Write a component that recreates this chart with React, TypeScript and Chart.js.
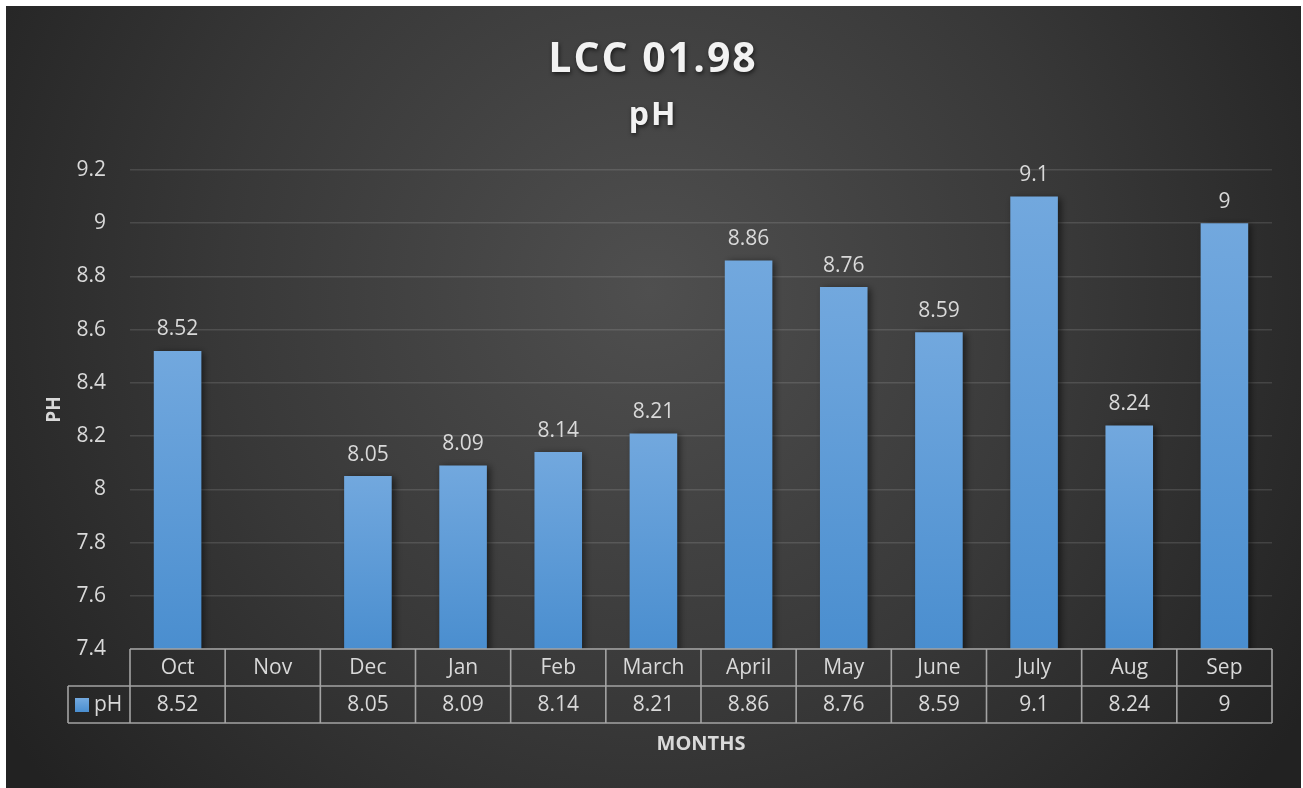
import React, { useEffect, useRef } from "react";
import { Chart, registerables } from "chart.js";

Chart.register(...registerables);

const titleLine1 = "LCC 01.98";
const titleLine2 = "pH";
const months = ["Oct", "Nov", "Dec", "Jan", "Feb", "March", "April", "May", "June", "July", "Aug", "Sep"];
const phValues: (number | null)[] = [8.52, null, 8.05, 8.09, 8.14, 8.21, 8.86, 8.76, 8.59, 9.1, 8.24, 9];
const seriesName = "pH";
const yTitle = "PH";
const xTitle = "MONTHS";
const yMin = 7.4;
const yMax = 9.2;
const yStep = 0.2;

const FONT = "'Open Sans', 'Noto Sans', sans-serif";
const TEXT = "#d9d9d9";

function fmt(v: number | null): string {
  if (v === null || v === undefined) return "";
  return String(Math.round(v * 100) / 100);
}

export default function App() {
  const ref = useRef<HTMLCanvasElement>(null);
  useEffect(() => {
    document.body.style.margin = "0";
    const canvas = ref.current!;
    const bgPlugin = {
      id: "bg",
      beforeDraw(chart: any) {
        const ctx = chart.ctx;
        ctx.save();
        ctx.fillStyle = "#ffffff";
        ctx.fillRect(0, 0, chart.width, chart.height);
        const g = ctx.createRadialGradient(650, 290, 0, 650, 290, 780);
        g.addColorStop(0, "#4f4f4f");
        g.addColorStop(0.55, "#383838");
        g.addColorStop(1, "#222222");
        ctx.fillStyle = g;
        ctx.fillRect(6, 6, 1295, 782);
        ctx.restore();
      },
      beforeDatasetsDraw(chart: any) {
        const ctx = chart.ctx;
        ctx.save();
        ctx.shadowColor = "rgba(0,0,0,0.55)";
        ctx.shadowBlur = 7;
        ctx.shadowOffsetX = 3;
        ctx.shadowOffsetY = 1;
      },
      afterDatasetsDraw(chart: any) {
        chart.ctx.restore();
      },
      afterDraw(chart: any) {
        const ctx = chart.ctx;
        const xs = chart.scales.x;
        const area = chart.chartArea;
        ctx.save();
        // Titles
        ctx.textAlign = "center";
        ctx.textBaseline = "alphabetic";
        ctx.fillStyle = "#f2f2f2";
        ctx.shadowColor = "rgba(0,0,0,0.6)";
        ctx.shadowBlur = 4;
        ctx.shadowOffsetX = 1;
        ctx.shadowOffsetY = 2;
        (ctx as any).letterSpacing = "2px";
        ctx.font = `bold 41px ${FONT}`;
        ctx.fillText(titleLine1, 653, 72);
        ctx.font = `bold 32px ${FONT}`;
        ctx.fillText(titleLine2, 653, 125);
        (ctx as any).letterSpacing = "0px";
        ctx.shadowColor = "transparent";
        ctx.shadowBlur = 0;
        ctx.shadowOffsetX = 0;
        ctx.shadowOffsetY = 0;

        // value labels
        const meta = chart.getDatasetMeta(0);
        ctx.font = `21px ${FONT}`;
        ctx.fillStyle = TEXT;
        ctx.textBaseline = "bottom";
        meta.data.forEach((bar: any, i: number) => {
          const v = phValues[i];
          if (v === null) return;
          ctx.fillText(fmt(v), bar.x, bar.y - 11);
        });

        // data table
        const n = months.length;
        const cw = (area.right - area.left) / n;
        const top = area.bottom;
        const r1 = top + 37;
        const r2 = r1 + 37;
        const legLeft = 68;
        ctx.strokeStyle = "#a3a3a3";
        ctx.lineWidth = 1.6;
        ctx.beginPath();
        ctx.moveTo(area.left, top);
        ctx.lineTo(area.right, top);
        ctx.moveTo(legLeft, r1);
        ctx.lineTo(area.right, r1);
        ctx.moveTo(legLeft, r2);
        ctx.lineTo(area.right, r2);
        ctx.moveTo(legLeft, r1);
        ctx.lineTo(legLeft, r2);
        for (let i = 0; i <= n; i++) {
          const x = xs.getPixelForValue(Math.min(i, n - 1)) + (i === n ? cw / 2 : -cw / 2);
          ctx.moveTo(x, top);
          ctx.lineTo(x, r2);
        }
        ctx.stroke();

        ctx.fillStyle = TEXT;
        ctx.font = `21px ${FONT}`;
        ctx.textAlign = "center";
        ctx.textBaseline = "middle";
        months.forEach((m, i) => {
          const x = xs.getPixelForValue(i);
          ctx.fillText(m, x, (top + r1) / 2 + 1);
          ctx.fillText(fmt(phValues[i]), x, (r1 + r2) / 2 + 1);
        });
        // legend key
        const sq = ctx.createLinearGradient(0, r1 + 12, 0, r1 + 26);
        sq.addColorStop(0, "#74aae0");
        sq.addColorStop(1, "#4a8ed0");
        ctx.fillStyle = sq;
        ctx.fillRect(75, r1 + 12, 14, 14);
        ctx.fillStyle = TEXT;
        ctx.textAlign = "left";
        ctx.fillText(seriesName, 94, (r1 + r2) / 2 + 1);

        // axis titles
        ctx.font = `bold 20px ${FONT}`;
        ctx.textAlign = "center";
        ctx.fillText(xTitle, (area.left + area.right) / 2, 744);
        ctx.font = `bold 19px ${FONT}`;
        ctx.translate(55, (area.top + area.bottom) / 2);
        ctx.rotate(-Math.PI / 2);
        ctx.fillText(yTitle, 0, 0);
        ctx.restore();
      },
    };

    const chart = new Chart(canvas, {
      type: "bar",
      data: {
        labels: months,
        datasets: [
          {
            label: seriesName,
            data: phValues,
            barPercentage: 0.5,
            categoryPercentage: 1,
            backgroundColor: (c: any) => {
              const ch = c.chart;
              const ys = ch.scales && ch.scales.y;
              if (!ch.chartArea || !ys || c.raw === null || c.raw === undefined) return "#5b9bd5";
              const yTop = ys.getPixelForValue(c.raw);
              const yBot = ch.chartArea.bottom;
              if (!isFinite(yTop) || yBot - yTop < 1) return "#5b9bd5";
              const g = ch.ctx.createLinearGradient(0, yTop, 0, yBot);
              g.addColorStop(0, "#72a8de");
              g.addColorStop(1, "#4a8ecf");
              return g;
            },
          },
        ],
      },
      options: {
        responsive: false,
        animation: false,
        layout: { padding: { left: 0, top: 170, right: 31, bottom: 139 } },
        plugins: {
          legend: { display: false },
          title: { display: false },
          tooltip: { enabled: false },
        },
        scales: {
          x: { display: false },
          y: {
            min: yMin,
            max: yMax,
            afterFit: (s: any) => {
              s.width = 130;
            },
            border: { display: false },
            grid: { color: "rgba(255,255,255,0.12)", lineWidth: 1.5, drawTicks: false },
            ticks: {
              stepSize: yStep,
              color: TEXT,
              font: { family: FONT, size: 21 },
              padding: 24,
              callback: (v: any) => String(Math.round(Number(v) * 10) / 10),
            },
          },
        },
      },
      plugins: [bgPlugin],
    } as any);
    return () => chart.destroy();
  }, []);
  return (
    <div style={{ position: "absolute", left: 0, top: 0 }}>
      <canvas ref={ref} width={1303} height={788} style={{ display: "block" }} />
    </div>
  );
}
